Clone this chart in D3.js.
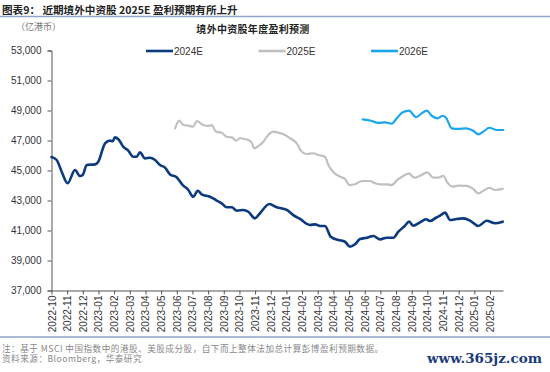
<!DOCTYPE html>
<html><head><meta charset="utf-8">
<script src="https://cdn.jsdelivr.net/npm/d3@7/dist/d3.min.js"></script>
<style>
html,body{margin:0;padding:0;background:#fff;}
svg{display:block;}
</style></head>
<body>
<script>
// ---- data (x = months since 2022-10, value in 亿港币) ----
const monthLabels = ["2022-10","2022-11","2022-12","2023-01","2023-02","2023-03","2023-04","2023-05","2023-06","2023-07","2023-08","2023-09","2023-10","2023-11","2023-12","2024-01","2024-02","2024-03","2024-04","2024-05","2024-06","2024-07","2024-08","2024-09","2024-10","2024-11","2024-12","2025-01","2025-02"];
const yTicks = [37000,39000,41000,43000,45000,47000,49000,51000,53000];
const seriesNames = ["2024E","2025E","2026E"];

const e2024 = [[0,45900],[0.33,45700],[0.65,44920],[1.03,44150],[1.5,45030],[1.82,44630],[1.99,44700],[2.25,45370],[2.78,45410],[2.99,45590],[3.42,46810],[3.74,46990],[3.91,46950],[4.05,47210],[4.27,47080],[4.58,46590],[4.9,46320],[5.22,45920],[5.44,45920],[5.65,46210],[5.97,45810],[6.29,45850],[6.61,45700],[6.93,45370],[7.25,45190],[7.57,44740],[7.99,44550],[8.38,44030],[8.74,43700],[9.05,43250],[9.34,43650],[9.59,43410],[10.12,43250],[10.5,43030],[10.87,42810],[11.19,42550],[11.51,42550],[11.83,42320],[12.25,42370],[12.57,42250],[12.99,41810],[13.31,42150],[13.91,42770],[14.38,42550],[15.02,42370],[15.44,42030],[15.87,41770],[16.51,41370],[16.83,41410],[17.15,41300],[17.46,41300],[17.83,40590],[18.31,40370],[18.74,40250],[19.06,39920],[19.38,40080],[19.7,40430],[20.13,40520],[20.55,40630],[20.98,40410],[21.4,40520],[21.83,40520],[22.15,40920],[22.57,41320],[22.83,41590],[23.1,41320],[23.53,41540],[23.91,41750],[24.17,41630],[24.55,41850],[24.81,41990],[25.13,42190],[25.45,41700],[25.87,41770],[26.3,41810],[26.77,41630],[27.25,41300],[27.79,41650],[28.32,41480],[28.81,41590]];

const e2025 = [[7.89,47810],[8.16,48320],[8.42,48030],[8.74,47990],[9.05,47920],[9.27,48300],[9.69,48030],[10.01,47970],[10.23,48030],[10.5,47590],[10.87,47520],[11.19,47250],[11.51,47210],[11.78,46990],[12.04,47150],[12.57,47030],[12.78,46850],[12.95,46480],[13.21,46630],[13.52,46920],[13.84,47370],[14.16,47590],[14.48,47520],[14.91,47370],[15.23,47150],[15.66,46810],[15.98,46250],[16.3,46100],[16.72,46150],[17.04,46030],[17.46,45920],[17.68,45370],[18.0,44880],[18.42,44590],[18.74,44430],[19.02,44030],[19.38,44080],[19.81,44300],[20.34,44300],[20.66,44150],[20.98,44080],[21.4,44080],[21.72,44030],[22.08,44370],[22.46,44630],[22.83,44810],[23.15,44520],[23.53,44650],[24.0,44880],[24.38,44520],[24.7,44520],[25.02,44650],[25.27,44210],[25.62,43920],[25.98,43990],[26.51,43970],[26.93,43770],[27.25,43480],[27.57,43650],[27.96,43850],[28.32,43700],[28.81,43770]];

const e2026 = [[19.87,48410],[20.45,48300],[20.87,48170],[21.3,48210],[21.72,48120],[22.08,48520],[22.43,48880],[22.83,48990],[23.28,48550],[23.64,48810],[23.96,48990],[24.28,48650],[24.64,48480],[24.98,48650],[25.19,48520],[25.56,47810],[25.98,47770],[26.47,47810],[26.93,47650],[27.25,47410],[27.57,47590],[27.96,47850],[28.43,47700],[28.85,47700]];

const seriesData = [e2024, e2025, e2026];
const colors = ["#0b3a7e","#c0c0c0","#1aa6ec"];
const widths = [2.6, 2.2, 2.2];

// ---- layout ----
const W = 550, H = 372;
const svg = d3.select("body").append("svg").attr("width", W).attr("height", H);
const plot = {left: 51.5, right: 503, top: 50.5, bottom: 290.5};

const x = d3.scaleLinear().domain([0, 28.83]).range([plot.left, plot.right]);
const y = d3.scaleLinear().domain([37000, 53000]).range([plot.bottom, plot.top]);

// Header
svg.append("text").attr("x", 2).attr("y", 14)
  .attr("font-family", "'Noto Sans CJK SC', 'Liberation Sans', sans-serif")
  .attr("font-size", 10.6).attr("font-weight", "bold").attr("fill", "#222")
  .text("图表9：  近期境外中资股 2025E 盈利预期有所上升");
svg.append("line").attr("x1", 0).attr("x2", W).attr("y1", 16.5).attr("y2", 16.5)
  .attr("stroke", "#8ea6c6").attr("stroke-width", 1.6);

svg.append("text").attr("x", 16).attr("y", 30)
  .attr("font-family", "'Noto Sans CJK SC', sans-serif")
  .attr("font-size", 9).attr("fill", "#777")
  .text("（亿港币）");

svg.append("text").attr("x", 253).attr("y", 33).attr("text-anchor", "middle")
  .attr("font-family", "'Noto Sans CJK SC', sans-serif")
  .attr("font-size", 10).attr("font-weight", "bold").attr("fill", "#222")
  .attr("letter-spacing", 0.3)
  .text("境外中资股年度盈利预测");

// Legend
const legX = [146, 258.5, 371];
seriesNames.forEach((n, i) => {
  const g = svg.append("g").attr("transform", `translate(${legX[i]},51)`);
  g.append("line").attr("x1", 0).attr("x2", 27).attr("y1", 0).attr("y2", 0)
    .attr("stroke", colors[i]).attr("stroke-width", 2.6);
  g.append("text").attr("x", 28).attr("y", 3.6)
    .attr("font-family", "'Liberation Sans', Arial, sans-serif")
    .attr("font-size", 10).attr("fill", "#333").text(n);
});

// Axes
const yAxis = d3.axisLeft(y).tickValues(yTicks).tickSize(4).tickPadding(6)
  .tickFormat(d3.format(","));
const gy = svg.append("g").attr("transform", `translate(${plot.left},0)`).call(yAxis);
gy.select(".domain").attr("stroke", "#555");
gy.selectAll(".tick line").attr("stroke", "#555");
gy.selectAll("text").attr("font-family", "'Liberation Sans', Arial, sans-serif")
  .attr("font-size", 10).attr("fill", "#333");

const xAxis = d3.axisBottom(x).tickValues(d3.range(monthLabels.length))
  .tickFormat(i => monthLabels[i]).tickSize(4).tickSizeOuter(0);
const gx = svg.append("g").attr("transform", `translate(0,${plot.bottom})`).call(xAxis);
gx.select(".domain").attr("stroke", "#555");
gx.selectAll(".tick line").attr("stroke", "#555");
gx.selectAll("text")
  .attr("font-family", "'Liberation Sans', Arial, sans-serif")
  .attr("font-size", 10).attr("fill", "#333")
  .attr("transform", "rotate(-90)")
  .attr("text-anchor", "end")
  .attr("x", -5).attr("y", 0).attr("dy", "0.35em");

// Lines
const line = d3.line().x(d => x(d[0])).y(d => y(d[1])).curve(d3.curveMonotoneX);
seriesData.forEach((s, i) => {
  svg.append("path").datum(s).attr("d", line)
    .attr("fill", "none").attr("stroke", colors[i])
    .attr("stroke-width", widths[i]).attr("stroke-linejoin", "round").attr("stroke-linecap", "round");
});

// Footer
svg.append("line").attr("x1", 0).attr("x2", W).attr("y1", 337).attr("y2", 337)
  .attr("stroke", "#8ea6c6").attr("stroke-width", 1.4);
svg.append("text").attr("x", 2).attr("y", 351.5)
  .attr("font-family", "'Noto Sans CJK SC', sans-serif")
  .attr("font-size", 8.6).attr("fill", "#888").attr("letter-spacing", 0.5)
  .text("注：基于 MSCI 中国指数中的港股、美股成分股，自下而上整体法加总计算彭博盈利预期数据。");
svg.append("text").attr("x", 2).attr("y", 362)
  .attr("font-family", "'Noto Sans CJK SC', sans-serif")
  .attr("font-size", 8.6).attr("fill", "#888").attr("letter-spacing", 0.5)
  .text("资料来源：Bloomberg，华泰研究");
svg.append("text").attr("x", 427).attr("y", 363)
  .attr("font-family", "'DejaVu Serif', serif")
  .attr("font-size", 13).attr("font-weight", "bold").attr("fill", "#1b3b7b")
  .attr("textLength", 115).attr("lengthAdjust", "spacingAndGlyphs")
  .text("www.365jz.com");
</script>
</body></html>
